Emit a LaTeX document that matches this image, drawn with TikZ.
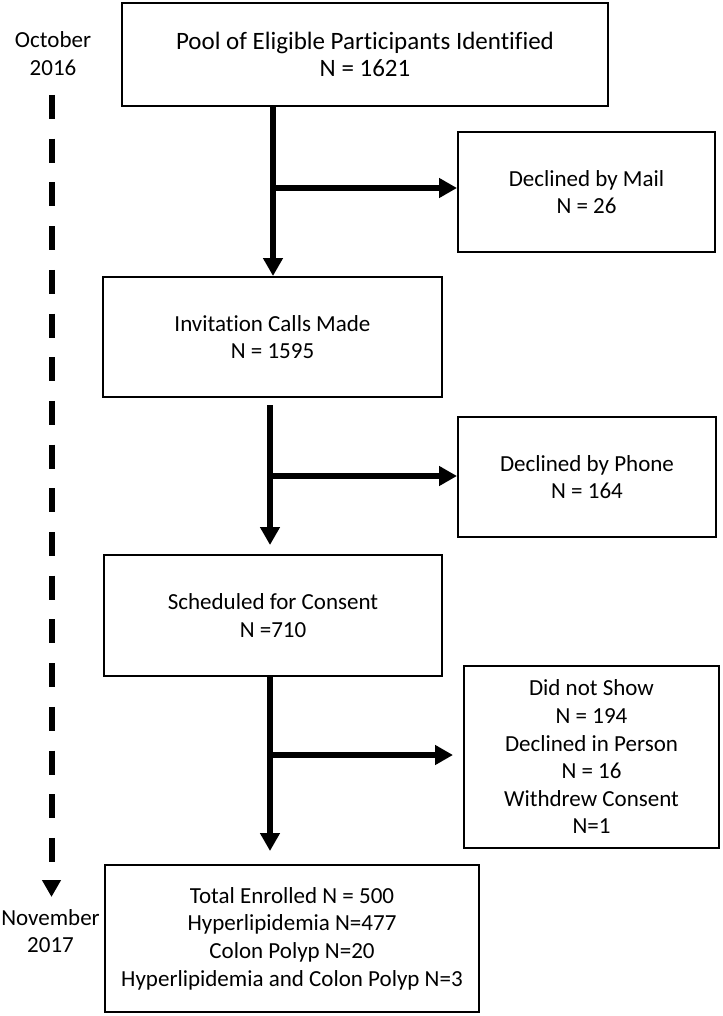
\documentclass[tikz,border=0pt]{standalone}
\usepackage{fontspec}
\setmainfont{Carlito}[Ligatures={NoCommon}]
\usetikzlibrary{arrows.meta}
\begin{document}
\begin{tikzpicture}[x=0.5pt,y=-0.5pt,
  every node/.style={font=\fontsize{11.5}{13.8}\selectfont, align=center, inner sep=0pt},
  box/.style={draw=black, line width=1pt, rectangle},
  flow/.style={line width=2.75pt, -{Triangle[length=9pt,width=9.5pt]}},
  timeline/.style={line width=3pt, dash pattern=on 12pt off 9.85pt, -{Triangle[length=8.5pt,width=9pt]}}]
\useasboundingbox (0,0) rectangle (722,1016);
% boxes
\node[box, minimum width=243pt, minimum height=51.5pt, font=\fontsize{12.5}{13.6}\selectfont] (pool) at (365,54.5) {Pool of Eligible Participants Identified\\N = 1621};
\node[box, minimum width=128.5pt, minimum height=60pt] (mail) at (586.5,192) {Declined by Mail\\N = 26};
\node[box, minimum width=169.5pt, minimum height=60pt] (inv) at (272.5,337) {Invitation Calls Made\\N = 1595};
\node[box, minimum width=129pt, minimum height=60pt] (phone) at (587,477) {Declined by Phone\\N = 164};
\node[box, minimum width=169pt, minimum height=60.5pt] (sched) at (273,615.5) {Scheduled for Consent\\N =710};
\node[box, minimum width=127.5pt, minimum height=91pt] (show) at (591.5,757) {Did not Show\\N = 194\\Declined in Person\\N = 16\\Withdrew Consent\\N=1};
\node[box, minimum width=187pt, minimum height=73.5pt] (total) at (292,938.5) {Total Enrolled N = 500\\Hyperlipidemia N=477\\Colon Polyp N=20\\Hyperlipidemia and Colon Polyp N=3};
% timeline labels
\node (oct) at (53,53.5) {October\\2016};
\node (nov) at (50.5,931) {November\\2017};
\coordinate (tl0) at (51.5,95);
\coordinate (tl1) at (51.5,897);
\draw[timeline] (tl0) -- (tl1);
% flow connectors
\coordinate (c1) at (273,0);
\coordinate (c2) at (270,0);
\coordinate (b1) at (273,188);
\coordinate (b2) at (270,476);
\coordinate (b3) at (270,755);
\draw[flow] (pool.south -| c1) -- (inv.north -| c1);
\draw[flow] (b1) -- (mail.west |- b1);
\draw[flow] ([yshift=-3.5pt]inv.south -| c2) -- ([yshift=4.5pt]sched.north -| c2);
\draw[flow] (b2) -- (phone.west |- b2);
\draw[flow] (sched.south -| c2) -- ([yshift=6.5pt]total.north -| c2);
\draw[flow] (b3) -- ([xshift=-5pt]show.west |- b3);
\end{tikzpicture}
\end{document}
